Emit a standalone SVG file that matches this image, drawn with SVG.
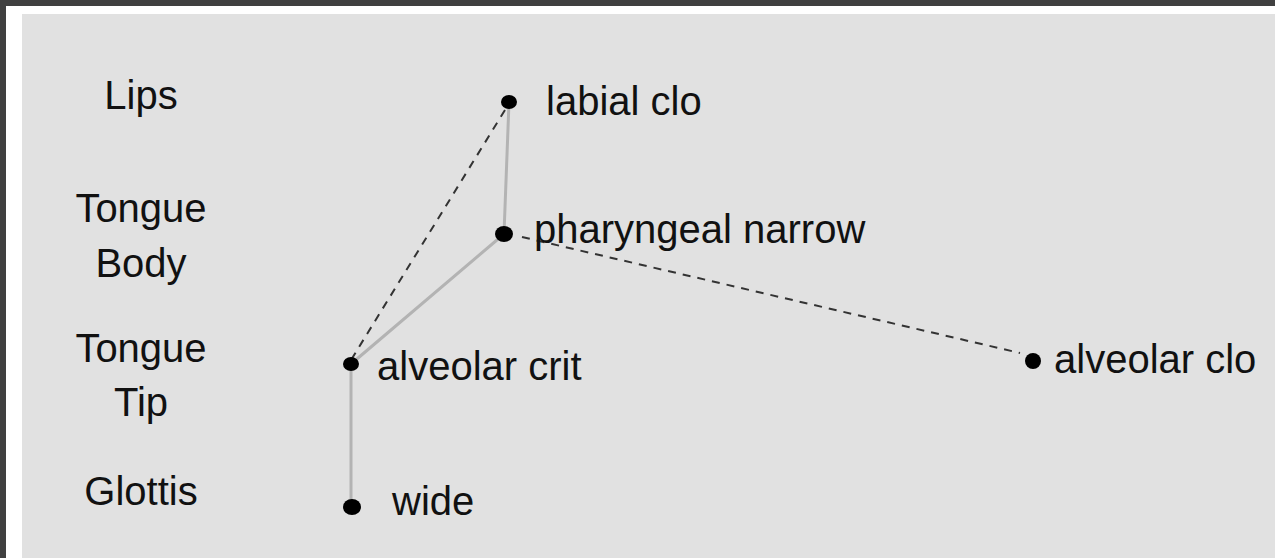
<svg xmlns="http://www.w3.org/2000/svg" width="1275" height="558" viewBox="0 0 1275 558">
  <style>
    .lbl { font-family: "Liberation Sans", Arial, sans-serif; font-size: 40px; fill: #111; }
    .tier { text-anchor: middle; }
    .link { stroke: #b3b3b3; stroke-width: 3; fill: none; stroke-linecap: round; }
    .phase { stroke: #333; stroke-width: 2; fill: none; stroke-dasharray: 8 7; }
    .dot { fill: #000; }
  </style>

  <!-- frame -->
  <rect x="0" y="0" width="1275" height="558" fill="#404040"/>
  <rect x="6" y="6" width="1269" height="552" fill="#ffffff"/>
  <rect x="22" y="14" width="1253" height="544" fill="#e1e1e1"/>

  <!-- tier names -->
  <g id="tiers">
    <text class="lbl tier" x="141" y="109">Lips</text>
    <text class="lbl tier" x="141" y="222">Tongue</text>
    <text class="lbl tier" x="141" y="277">Body</text>
    <text class="lbl tier" x="141" y="362">Tongue</text>
    <text class="lbl tier" x="141" y="416">Tip</text>
    <text class="lbl tier" x="141" y="505">Glottis</text>
  </g>

  <!-- connectors -->
  <g id="connectors">
    <line class="link" x1="509" y1="102" x2="504" y2="234"/>
    <line class="link" x1="504" y1="234" x2="351" y2="364"/>
    <line class="link" x1="351" y1="364" x2="351" y2="507"/>
    <line class="phase" x1="505" y1="110" x2="351" y2="360"/>
    <line class="phase" x1="522" y1="237" x2="1020" y2="353"/>
  </g>

  <!-- gestures -->
  <g id="labial-clo">
    <ellipse class="dot" cx="509" cy="102" rx="8" ry="7"/>
    <text class="lbl" x="546" y="115">labial clo</text>
  </g>
  <g id="pharyngeal-narrow">
    <ellipse class="dot" cx="504" cy="234" rx="9" ry="8"/>
    <text class="lbl" x="534" y="243">pharyngeal narrow</text>
  </g>
  <g id="alveolar-crit">
    <ellipse class="dot" cx="351" cy="364" rx="8" ry="7"/>
    <text class="lbl" x="377" y="380">alveolar crit</text>
  </g>
  <g id="wide">
    <ellipse class="dot" cx="352" cy="507" rx="9" ry="8"/>
    <text class="lbl" x="392" y="515">wide</text>
  </g>
  <g id="alveolar-clo">
    <ellipse class="dot" cx="1033" cy="361" rx="8" ry="8"/>
    <text class="lbl" x="1054" y="373">alveolar clo</text>
  </g>
</svg>
